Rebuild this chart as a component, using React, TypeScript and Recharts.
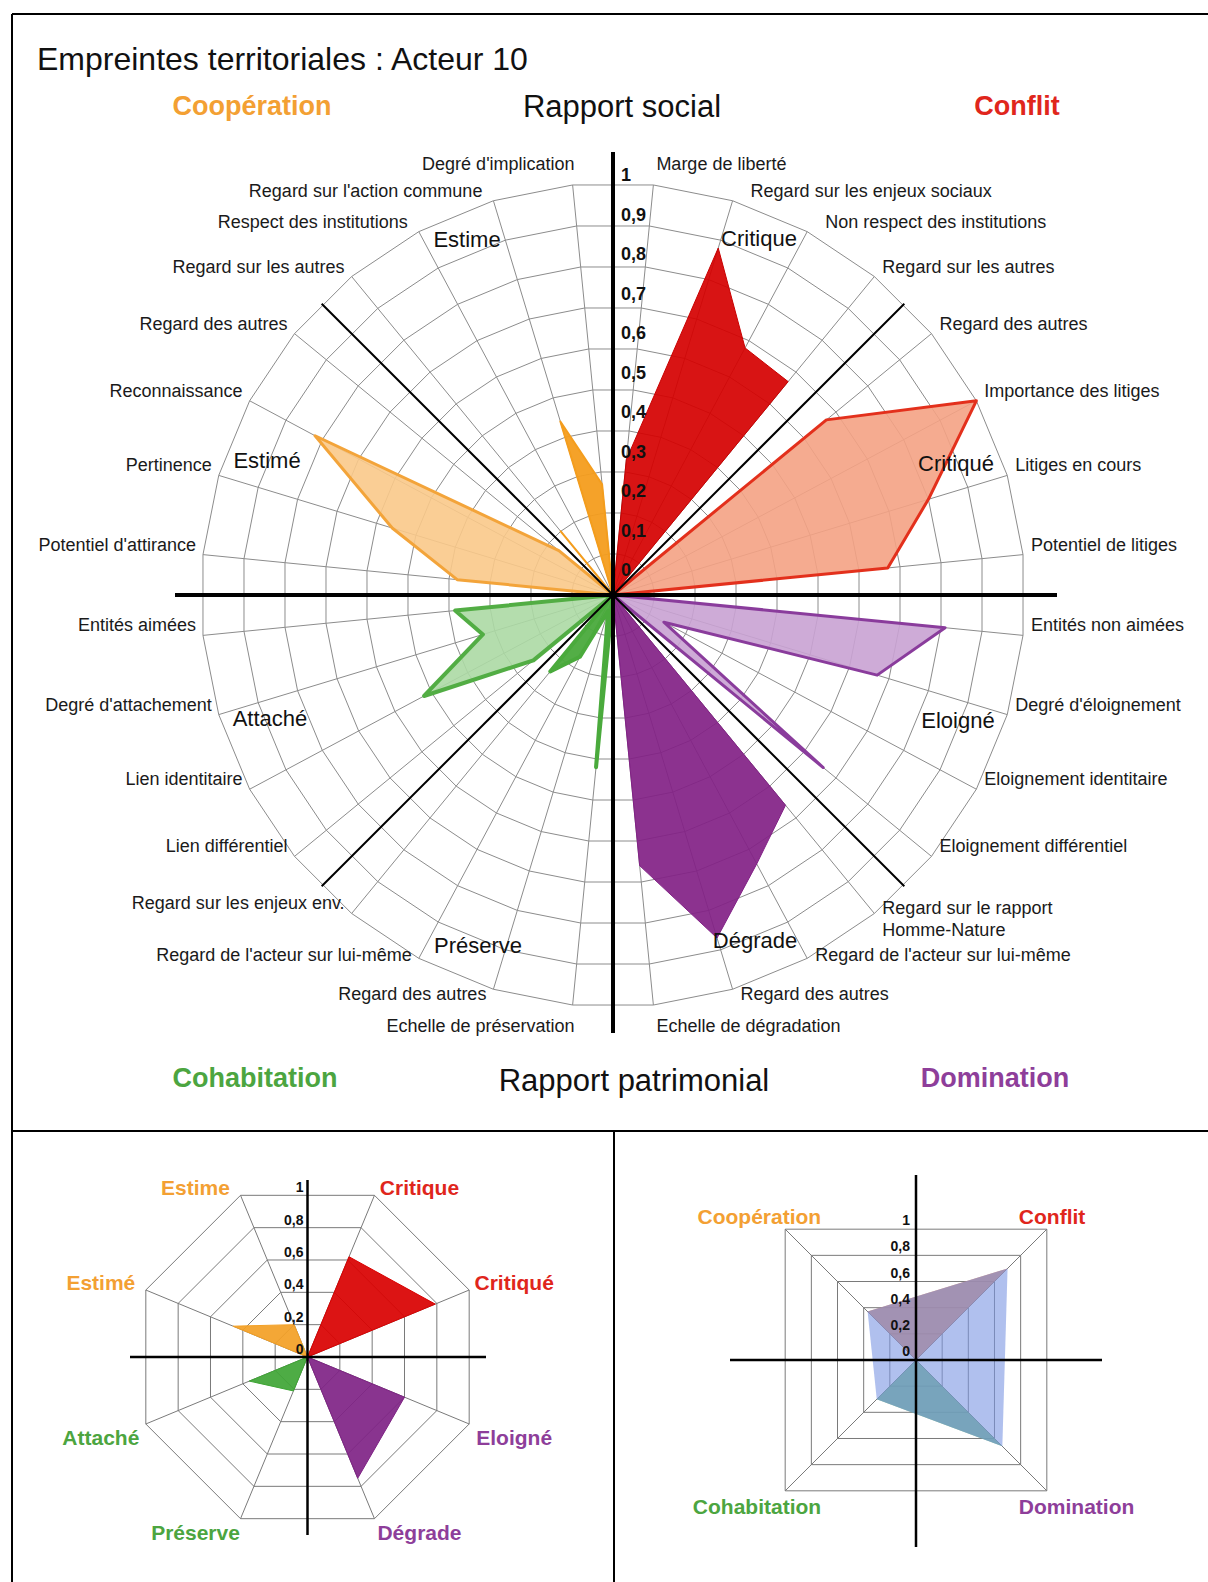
import React from 'react';
import {
  RadarChart,
  Radar,
  PolarGrid,
  PolarAngleAxis,
  PolarRadiusAxis,
} from 'recharts';

const FONT = 'Arial, "Liberation Sans", sans-serif';

// main chart: 32 criteria, clockwise from the top
const CATEGORIES = [
  'Marge de liberté',
  'Regard sur les enjeux sociaux',
  'Non respect des institutions',
  'Regard sur les autres',
  'Regard des autres',
  'Importance des litiges',
  'Litiges en cours',
  'Potentiel de litiges',
  'Entités non aimées',
  "Degré d'éloignement",
  'Eloignement identitaire',
  'Eloignement différentiel',
  'Regard sur le rapport\nHomme-Nature',
  "Regard de l'acteur sur lui-même",
  'Regard des autres',
  'Echelle de dégradation',
  'Echelle de préservation',
  'Regard des autres',
  "Regard de l'acteur sur lui-même",
  'Regard sur les enjeux env.',
  'Lien différentiel',
  'Lien identitaire',
  "Degré d'attachement",
  'Entités aimées',
  "Potentiel d'attirance",
  'Pertinence',
  'Reconnaissance',
  'Regard des autres',
  'Regard sur les autres',
  'Respect des institutions',
  "Regard sur l'action commune",
  "Degré d'implication",
];

// four values per group, same clockwise order
const CRITIQUE = [0.33, 0.88, 0.68, 0.67];
const CRITIQUE_PASSIF = [0.67, 1.0, 0.8, 0.67];
const ELOIGNE = [0.81, 0.67, 0.14, 0.66];
const DEGRADE = [0.66, 0.74, 0.87, 0.66];
const PRESERVE = [0.42, 0.04, 0.17, 0.24];
const ATTACHE = [0.25, 0.52, 0.33, 0.385];
const ESTIME_PASSIF = [0.38, 0.56, 0.82, 0.17];
const ESTIME = [0.2, 0, 0.44, 0.27];

const MAIN_TICKS = [0, 0.1, 0.2, 0.3, 0.4, 0.5, 0.6, 0.7, 0.8, 0.9, 1];
const SMALL_TICKS = [0, 0.2, 0.4, 0.6, 0.8, 1];

// summary octagon
const SUMMARY_LABELS = ['Critique', 'Critiqué', 'Eloigné', 'Dégrade', 'Préserve', 'Attaché', 'Estimé', 'Estime'];
const SUMMARY_VALUES = [0.62, 0.79, 0.6, 0.75, 0.21, 0.36, 0.46, 0.2];

// global square
const GLOBAL_LABELS = ['Conflit', 'Domination', 'Cohabitation', 'Coopération'];
const GLOBAL_VALUES = [0.7, 0.66, 0.3, 0.37];

const ORANGE = '#f3a033';
const RED = '#e0261c';
const GREEN = '#4ca540';
const PURPLE = '#8e3e9a';

const GROUPS = [
  { key: 'critique', start: 0, values: CRITIQUE, fill: '#d50000', stroke: '#c80000', width: 1, op: 0.92 },
  { key: 'critiqueP', start: 4, values: CRITIQUE_PASSIF, fill: '#f4a284', stroke: '#e3301c', width: 3, op: 0.9 },
  { key: 'eloigne', start: 8, values: ELOIGNE, fill: '#c9a2d3', stroke: '#8a3c9c', width: 3, op: 0.9 },
  { key: 'degrade', start: 12, values: DEGRADE, fill: '#822186', stroke: '#822186', width: 1, op: 0.92 },
  { key: 'preserve', start: 16, values: PRESERVE, fill: '#4aaa3c', stroke: '#4aaa3c', width: 4, op: 0.95 },
  { key: 'attache', start: 20, values: ATTACHE, fill: '#acd9a4', stroke: '#52ad44', width: 4, op: 0.9 },
  { key: 'estimeP', start: 24, values: ESTIME_PASSIF, fill: '#f9c98a', stroke: '#f3a43a', width: 3, op: 0.9 },
  { key: 'estime', start: 28, values: ESTIME, fill: '#f49d1d', stroke: '#f49d1d', width: 2, op: 0.95 },
];

const mainRows = CATEGORIES.map((_, i) => {
  const row: any = { id: i };
  GROUPS.forEach((g) => {
    const k = i - g.start;
    row[g.key] = k >= 0 && k < 4 ? g.values[k] : 0;
  });
  return row;
});

const SUMMARY_SERIES = [
  { key: 'social', idx: [0, 1], fill: '#d90000' },
  { key: 'domination', idx: [2, 3], fill: '#7f2385' },
  { key: 'cohab', idx: [4, 5], fill: '#3fa535' },
  { key: 'coop', idx: [6, 7], fill: '#f3a025' },
];
const SUMMARY_COLORS = [RED, RED, PURPLE, PURPLE, GREEN, GREEN, ORANGE, ORANGE];

const summaryRows = SUMMARY_LABELS.map((_, i) => {
  const row: any = { id: i };
  SUMMARY_SERIES.forEach((s) => {
    row[s.key] = s.idx.includes(i) ? SUMMARY_VALUES[i] : 0;
  });
  return row;
});

const GLOBAL_COLORS = [RED, PURPLE, GREEN, ORANGE];
const globalRows = GLOBAL_LABELS.map((_, i) => ({
  id: i,
  social: i === 0 || i === 3 ? GLOBAL_VALUES[i] : 0,
  patrimonial: i === 1 || i === 2 ? GLOBAL_VALUES[i] : 0,
  all: GLOBAL_VALUES[i],
}));

const fmt = (v: number) => (v === 0 ? '0' : v === 1 ? '1' : v.toFixed(1).replace('.', ','));

const MAIN_CX = 613;
const MAIN_CY = 595;
const MAIN_R = 412;

function MainAngleTick(props: any) {
  const { payload } = props;
  const label = CATEGORIES[Number(payload.value)] || '';
  const theta = 90 - payload.coordinate;
  const rad = (theta * Math.PI) / 180;
  const ex = MAIN_CX + MAIN_R * Math.sin(rad);
  const ey = MAIN_CY - MAIN_R * Math.cos(rad);
  const t = ((theta % 360) + 360) % 360;
  const fromTop = Math.min(t, 360 - t);
  const fromBottom = Math.abs(t - 180);
  const right = Math.sin(rad) > 0;
  const nearVertical = fromTop < 10 || fromBottom < 10;
  let dy = -10;
  if (fromTop < 10) dy = -21;
  else if (fromBottom < 10) dy = 21;
  else if (fromBottom < 20) dy = 5;
  else if (fromBottom < 30) dy = -3;
  let dx = right ? (nearVertical ? 3 : 8) : nearVertical ? 2 : -7;
  if (fromTop > 10 && fromTop < 30) dx += right ? 10 : -4;
  const lines = label.split('\n');
  if (lines.length > 1) dy = -5;
  const x = ex + dx;
  return (
    <text
      x={x}
      y={ey + dy}
      textAnchor={right ? 'start' : 'end'}
      dominantBaseline="central"
      fontSize={18}
      fontFamily={FONT}
      fill="#1a1a1a"
    >
      {lines.map((l, k) => (
        <tspan key={k} x={x} dy={k === 0 ? 0 : 22}>
          {l}
        </tspan>
      ))}
    </text>
  );
}

function MainRadiusTick(props: any) {
  const v = Number(props.payload.value);
  return (
    <text
      x={MAIN_CX + 8}
      y={MAIN_CY - (25 + v * 395)}
      dominantBaseline="central"
      fontSize={18}
      fontWeight="bold"
      fontFamily={FONT}
      fill="#111"
    >
      {fmt(v)}
    </text>
  );
}

const SUM_CX = 307.5;
const SUM_CY = 1357;
const SUM_R = 175;

function SummaryAngleTick(props: any) {
  const { payload } = props;
  const i = Number(payload.value);
  const rad = (payload.coordinate * Math.PI) / 180;
  const vx = SUM_CX + SUM_R * Math.cos(rad);
  const vy = SUM_CY - SUM_R * Math.sin(rad);
  const right = Math.cos(rad) > 0;
  const top = Math.sin(rad) > 0;
  return (
    <text
      x={vx + (right ? 45 : -45)}
      y={vy + (top ? -8 : 14)}
      textAnchor="middle"
      dominantBaseline="central"
      fontSize={21}
      fontWeight="bold"
      fontFamily={FONT}
      fill={SUMMARY_COLORS[i]}
    >
      {SUMMARY_LABELS[i]}
    </text>
  );
}

function SummaryRadiusTick(props: any) {
  const v = Number(props.payload.value);
  return (
    <text
      x={SUM_CX - 4}
      y={SUM_CY - v * SUM_R * Math.cos(Math.PI / 8) - 8}
      textAnchor="end"
      dominantBaseline="central"
      fontSize={14}
      fontWeight="bold"
      fontFamily={FONT}
      fill="#111"
    >
      {fmt(v)}
    </text>
  );
}

const GLO_CX = 916;
const GLO_CY = 1360;
const GLO_R = 185;

function GlobalAngleTick(props: any) {
  const { payload } = props;
  const i = Number(payload.value);
  const rad = (payload.coordinate * Math.PI) / 180;
  const vx = GLO_CX + GLO_R * Math.cos(rad);
  const vy = GLO_CY - GLO_R * Math.sin(rad);
  const right = Math.cos(rad) > 0;
  const top = Math.sin(rad) > 0;
  return (
    <text
      x={right ? vx - 28 : vx + 36}
      y={vy + (top ? -13 : 16)}
      textAnchor={right ? 'start' : 'end'}
      dominantBaseline="central"
      fontSize={21}
      fontWeight="bold"
      fontFamily={FONT}
      fill={GLOBAL_COLORS[i]}
    >
      {GLOBAL_LABELS[i]}
    </text>
  );
}

function GlobalRadiusTick(props: any) {
  const v = Number(props.payload.value);
  return (
    <text
      x={GLO_CX - 6}
      y={GLO_CY - v * GLO_R * Math.cos(Math.PI / 4) - 9}
      textAnchor="end"
      dominantBaseline="central"
      fontSize={14}
      fontWeight="bold"
      fontFamily={FONT}
      fill="#111"
    >
      {fmt(v)}
    </text>
  );
}

const layer: React.CSSProperties = { position: 'absolute', left: 0, top: 0 };
const noMargin = { top: 0, right: 0, bottom: 0, left: 0 };

export default function App() {
  const diag = [45, 135, 225, 315].map((a) => {
    const r = (a * Math.PI) / 180;
    return { x: MAIN_CX + MAIN_R * Math.sin(r), y: MAIN_CY - MAIN_R * Math.cos(r) };
  });

  return (
    <div
      style={{
        position: 'absolute',
        left: 0,
        top: 0,
        width: 1208,
        height: 1582,
        background: '#fff',
        overflow: 'hidden',
        fontFamily: FONT,
      }}
    >
      {/* main radar */}
      <div style={layer}>
        <RadarChart
          width={1208}
          height={1582}
          data={mainRows}
          cx={MAIN_CX}
          cy={MAIN_CY}
          outerRadius={MAIN_R}
          startAngle={84.375}
          endAngle={-275.625}
          margin={noMargin}
        >
          <PolarGrid gridType="polygon" stroke="#8c8c8c" strokeWidth={1} polarRadius={MAIN_TICKS.map((t) => t * MAIN_R)} />
          <PolarAngleAxis dataKey="id" tick={(p: any) => <MainAngleTick {...p} />} tickLine={false} axisLine={false} />
          <PolarRadiusAxis
            type="number"
            angle={90}
            domain={[0, 1]}
            ticks={MAIN_TICKS}
            tickCount={11}
            axisLine={false}
            tick={(p: any) => <MainRadiusTick {...p} />}
          />
          {GROUPS.map((g) => (
            <Radar
              key={g.key}
              dataKey={g.key}
              fill={g.fill}
              fillOpacity={g.op}
              stroke={g.stroke}
              strokeWidth={g.width}
              strokeLinejoin="round"
              dot={false}
              isAnimationActive={false}
            />
          ))}
        </RadarChart>
      </div>

      {/* summary octagon */}
      <div style={layer}>
        <RadarChart
          width={1208}
          height={1582}
          data={summaryRows}
          cx={SUM_CX}
          cy={SUM_CY}
          outerRadius={SUM_R}
          startAngle={67.5}
          endAngle={-292.5}
          margin={noMargin}
        >
          <PolarGrid gridType="polygon" stroke="#7a7a7a" strokeWidth={1} polarRadius={SMALL_TICKS.map((t) => t * SUM_R)} />
          <PolarAngleAxis dataKey="id" tick={(p: any) => <SummaryAngleTick {...p} />} tickLine={false} axisLine={false} />
          <PolarRadiusAxis
            type="number"
            angle={90}
            domain={[0, 1]}
            ticks={SMALL_TICKS}
            tickCount={6}
            axisLine={false}
            tick={(p: any) => <SummaryRadiusTick {...p} />}
          />
          {SUMMARY_SERIES.map((s) => (
            <Radar
              key={s.key}
              dataKey={s.key}
              fill={s.fill}
              fillOpacity={0.92}
              stroke={s.fill}
              strokeWidth={1}
              dot={false}
              isAnimationActive={false}
            />
          ))}
        </RadarChart>
      </div>

      {/* global square */}
      <div style={layer}>
        <RadarChart
          width={1208}
          height={1582}
          data={globalRows}
          cx={GLO_CX}
          cy={GLO_CY}
          outerRadius={GLO_R}
          startAngle={45}
          endAngle={-315}
          margin={noMargin}
        >
          <PolarGrid gridType="polygon" stroke="#7a7a7a" strokeWidth={1} polarRadius={SMALL_TICKS.map((t) => t * GLO_R)} />
          <PolarAngleAxis dataKey="id" tick={(p: any) => <GlobalAngleTick {...p} />} tickLine={false} axisLine={false} />
          <PolarRadiusAxis
            type="number"
            angle={90}
            domain={[0, 1]}
            ticks={SMALL_TICKS}
            tickCount={6}
            axisLine={false}
            tick={(p: any) => <GlobalRadiusTick {...p} />}
          />
          <Radar dataKey="social" fill="#d77851" fillOpacity={0.85} stroke="none" dot={false} isAnimationActive={false} />
          <Radar dataKey="patrimonial" fill="#5aac6c" fillOpacity={0.85} stroke="none" dot={false} isAnimationActive={false} />
          <Radar dataKey="all" fill="#7b96e2" fillOpacity={0.6} stroke="none" dot={false} isAnimationActive={false} />
        </RadarChart>
      </div>

      {/* frame, axes and titles */}
      <svg width={1208} height={1582} style={{ ...layer, pointerEvents: 'none' }}>
        <g stroke="#000" strokeWidth={2}>
          <line x1={12} y1={14} x2={1208} y2={14} />
          <line x1={12} y1={14} x2={12} y2={1582} />
          <line x1={12} y1={1131} x2={1208} y2={1131} />
          <line x1={614} y1={1131} x2={614} y2={1582} />
        </g>
        <g stroke="#000" strokeWidth={4}>
          <line x1={MAIN_CX} y1={152} x2={MAIN_CX} y2={1033} />
          <line x1={175} y1={MAIN_CY} x2={1057} y2={MAIN_CY} />
        </g>
        <g stroke="#000" strokeWidth={2}>
          {diag.map((d, i) => (
            <line key={i} x1={MAIN_CX} y1={MAIN_CY} x2={d.x} y2={d.y} />
          ))}
        </g>
        <g stroke="#000" strokeWidth={2.5}>
          <line x1={SUM_CX} y1={1180} x2={SUM_CX} y2={1535} />
          <line x1={130} y1={SUM_CY} x2={486} y2={SUM_CY} />
          <line x1={GLO_CX} y1={1175} x2={GLO_CX} y2={1547} />
          <line x1={730} y1={GLO_CY} x2={1102} y2={GLO_CY} />
        </g>

        <text x={37} y={70} fontSize={32} fontFamily={FONT} fill="#111">
          Empreintes territoriales : Acteur 10
        </text>
        <g fontFamily={FONT} dominantBaseline="central" textAnchor="middle">
          <text x={622} y={106} fontSize={31} fill="#111">Rapport social</text>
          <text x={634} y={1080} fontSize={31} fill="#111">Rapport patrimonial</text>
          <text x={252} y={106} fontSize={27} fontWeight="bold" fill={ORANGE}>Coopération</text>
          <text x={1017} y={106} fontSize={27} fontWeight="bold" fill={RED}>Conflit</text>
          <text x={255} y={1078} fontSize={27} fontWeight="bold" fill={GREEN}>Cohabitation</text>
          <text x={995} y={1078} fontSize={27} fontWeight="bold" fill={PURPLE}>Domination</text>
        </g>
        <g fontFamily={FONT} dominantBaseline="central" textAnchor="middle" fontSize={22} fill="#111">
          <text x={759} y={238}>Critique</text>
          <text x={956} y={463}>Critiqué</text>
          <text x={467} y={239}>Estime</text>
          <text x={267} y={460}>Estimé</text>
          <text x={270} y={718}>Attaché</text>
          <text x={958} y={720}>Eloigné</text>
          <text x={478} y={945}>Préserve</text>
          <text x={755} y={940}>Dégrade</text>
        </g>
      </svg>
    </div>
  );
}
